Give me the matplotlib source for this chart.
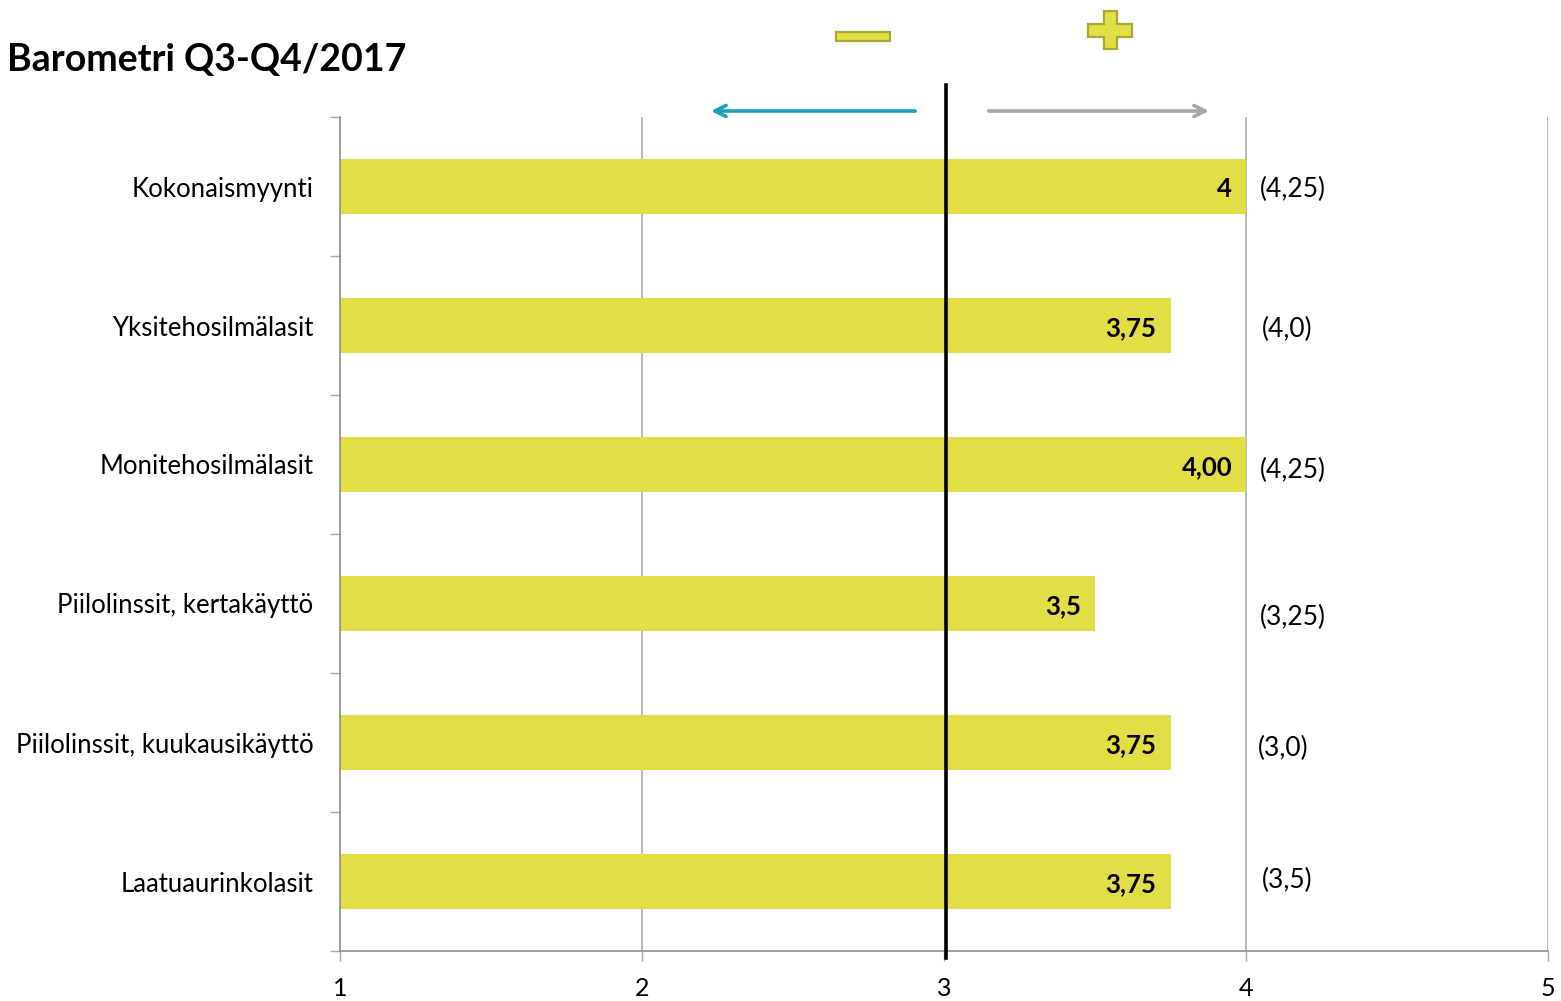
import matplotlib
matplotlib.use("Agg")
import matplotlib.pyplot as plt
from matplotlib.patches import Polygon, Rectangle
import matplotlib.transforms as mtransforms

plt.rcParams['font.family'] = ['Lato', 'DejaVu Sans']

categories = ["Kokonaismyynti", "Yksitehosilmälasit", "Monitehosilmälasit",
              "Piilolinssit, kertakäyttö", "Piilolinssit, kuukausikäyttö", "Laatuaurinkolasit"]
values = [4.0, 3.75, 4.0, 3.5, 3.75, 3.75]
value_labels = ["4", "3,75", "4,00", "3,5", "3,75", "3,75"]
previous_labels = ["(4,25)", "(4,0)", "(4,25)", "(3,25)", "(3,0)", "(3,5)"]
x_ticks = [1, 2, 3, 4, 5]

W, H = 1561, 1001
fig = plt.figure(figsize=(W / 100, H / 100), dpi=100)
ax = fig.add_axes([340 / W, 1 - 951 / H, (1548 - 340) / W, (951 - 117) / H])

bar_color = "#E1DF45"
edge_color = "#A9A735"
grid_color = "#8C8C8C"

ypos = list(range(len(categories)))
ax.barh(ypos, [v - 1 for v in values], left=1, height=0.4, color=bar_color, zorder=2)

ax.set_xlim(1, 5)
ax.set_ylim(len(categories) - 0.5, -0.5)

# vertical grid lines
for xv in [2, 4, 5]:
    ax.axvline(xv, color="#A6A6A6", lw=1.1, zorder=1)
# neutral reference line at 3, extending above the plot
ax.axvline(3.006, ymin=-0.008, ymax=(951 - 85) / (951 - 117), color="black", lw=2.6,
           zorder=4, clip_on=False)

for s in ["top", "right"]:
    ax.spines[s].set_visible(False)
for s in ["left", "bottom"]:
    ax.spines[s].set_color(grid_color)
    ax.spines[s].set_linewidth(1.2)

ax.set_xticks(x_ticks)
ax.set_xticklabels([str(t) for t in x_ticks])
ax.tick_params(axis="x", direction="out", length=7, color="#A6A6A6", width=1,
               labelsize=18, pad=12)
ax.set_yticks([y + 0.5 for y in range(-1, len(categories))], minor=False)
ax.set_yticklabels([])
ax.tick_params(axis="y", direction="out", length=7, color="#A6A6A6", width=1)
ax.set_yticks(ypos, minor=True)
ax.set_yticklabels(categories, minor=True)
ax.tick_params(axis="y", which="minor", length=0, labelsize=18.5, pad=19)

# value labels inside bar ends
for y, v, lab in zip(ypos, values, value_labels):
    ax.annotate(lab, xy=(v, y), xytext=(-10, -2), textcoords="offset points",
                ha="right", va="center", fontsize=18.5, fontweight="bold", zorder=5)

# previous period values
prev_offsets = [0.02, 0.03, 0.04, 0.1, 0.04, -0.01]
prev_x = [4.046, 4.053, 4.046, 4.046, 4.039, 4.053]
for y, lab, dy, px in zip(ypos, previous_labels, prev_offsets, prev_x):
    ax.text(px, y + dy, lab, ha="left", va="center", fontsize=19)

# title
fig.text(7 / W, 1 - 60 / H, "Barometri Q3-Q4/2017", fontsize=27, fontweight="bold",
         ha="left", va="center")

# direction arrows above the plot
trans = mtransforms.blended_transform_factory(ax.transData, fig.transFigure)
ay = 1 - 111 / H
ax.annotate("", xy=(2.219, ay), xytext=(2.914, ay), xycoords=trans, textcoords=trans,
            arrowprops=dict(arrowstyle="->,head_length=0.8,head_width=0.4",
                            color="#1BA1B9", lw=2.6))
ax.annotate("", xy=(3.887, ay), xytext=(3.139, ay), xycoords=trans, textcoords=trans,
            arrowprops=dict(arrowstyle="->,head_length=0.8,head_width=0.4",
                            color="#A6A6A6", lw=2.6))

# minus and plus symbols
px_t = fig.transFigure
def fp(x, y):
    return (x / W, 1 - y / H)

minus = Rectangle(fp(836, 41), (890 - 836) / W, 9 / H, transform=px_t,
                  facecolor=bar_color, edgecolor=edge_color, lw=1.6)
fig.patches.append(minus)

cx, cy, half, arm = 1110, 30, 22, 6.5
pts = [(cx - arm, cy - 19), (cx + arm, cy - 19), (cx + arm, cy - arm), (cx + half, cy - arm),
       (cx + half, cy + arm), (cx + arm, cy + arm), (cx + arm, cy + 19), (cx - arm, cy + 19),
       (cx - arm, cy + arm), (cx - half, cy + arm), (cx - half, cy - arm), (cx - arm, cy - arm)]
plus = Polygon([fp(x, y) for x, y in pts], closed=True, transform=px_t,
               facecolor=bar_color, edgecolor=edge_color, lw=1.6)
fig.patches.append(plus)

fig.savefig("out.png", dpi=100)
